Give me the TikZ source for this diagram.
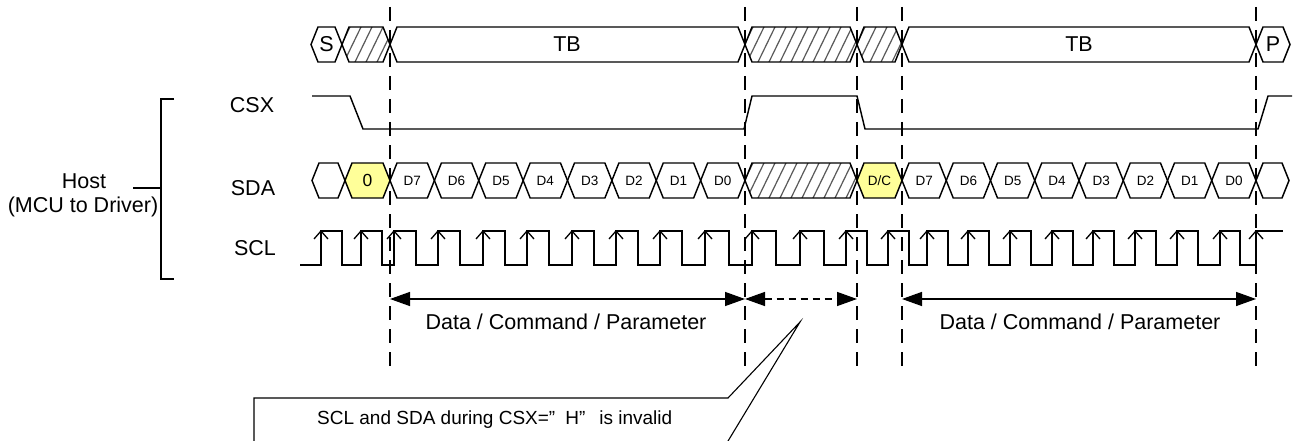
\documentclass[tikz,border=0pt]{standalone}
\usepackage{fontspec}
\setmainfont{Liberation Sans}
\usetikzlibrary{arrows.meta}
\definecolor{hl}{RGB}{255,255,153}
\tikzset{
  sig/.style={line width=1.45pt, line join=miter},
  hatchline/.style={line width=1.2pt, draw=black!65},
  vdash/.style={line width=1.3pt, dash pattern=on 14pt off 9pt},
  dimarrow/.style={line width=1.4pt, {Triangle[length=20pt,width=14pt]}-{Triangle[length=20pt,width=14pt]}},
  dimdash/.style={dimarrow, dash pattern=on 7pt off 5pt},
  biglab/.style={font=\fontsize{21.5}{25}\selectfont, inner sep=0pt},
  dlab/.style={font=\fontsize{13.5}{16}\selectfont, inner sep=0pt},
  edge/.style={line width=1.3pt}
}
\newcommand\hexcell[4][]{%
  \draw[sig,#1] ({#2},{#4}) -- ({#2+7},{#4-17.5}) -- ({#3-7},{#4-17.5}) -- ({#3},{#4}) -- ({#3-7},{#4+17.5}) -- ({#2+7},{#4+17.5}) -- cycle;}
\newcommand\hatchcell[3]{%
  \begin{scope}
    \clip ({#1},{#3}) -- ({#1+7},{#3-17.5}) -- ({#2-7},{#3-17.5}) -- ({#2},{#3}) -- ({#2-7},{#3+17.5}) -- ({#1+7},{#3+17.5}) -- cycle;
    \foreach \k in {0,...,14}{\draw[hatchline] ({#1-20+11*\k},{#3+17.5}) -- ({#1-3+11*\k},{#3-17.5});}
  \end{scope}
  \hexcell{#1}{#2}{#3}}
\begin{document}
\begin{tikzpicture}[x=1pt,y=-1pt]
\useasboundingbox[fill=white] (0,0) rectangle (1300,441);

% ---------- side labels and bracket ----------
\node[biglab] (host) at (84,181) {Host};
\node[biglab] (hostsub) at (83,207) {(MCU to Driver)};
\node[biglab] (csx) at (252,105) {CSX};
\node[biglab] (sda) at (253,188) {SDA};
\node[biglab] (scl) at (255,248) {SCL};
\coordinate (bt) at (161,99);
\coordinate (bb) at (161,279);
\coordinate (bs) at (133,188);
\draw[sig] (174,99) -- (bt) -- (bb) -- (174,279);
\draw[sig] (bs) -- (161,188);

% ---------- dashed verticals ----------
\foreach \x [count=\n] in {390,745,857,902,1256}{
  \coordinate (vt\n) at (\x,7);
  \coordinate (vb\n) at (\x,368);
  \draw[vdash] (vt\n) -- (vb\n);
}

% ---------- top bus ----------
\hexcell{311}{342}{44.5}
\node[biglab] (s) at (326.5,44.5) {S};
\hatchcell{342}{390}{44.5}
\hexcell{390}{745}{44.5}
\node[biglab] (tb1) at (567,44.5) {TB};
\hatchcell{745}{857}{44.5}
\hatchcell{857}{902}{44.5}
\hexcell{902}{1256}{44.5}
\node[biglab] (tb2) at (1079,44.5) {TB};
\hexcell{1256}{1290}{44.5}
\node[biglab] (p) at (1273,44.5) {P};

% ---------- CSX ----------
\draw[sig] (312,96) -- (350,96) -- (363,129) -- (744,129) -- (752,96) -- (857,96) -- (865,129) -- (1258,129) -- (1268,96) -- (1292,96);

% ---------- SDA ----------
\hexcell{312}{345}{180.5}
\hexcell[fill=hl]{345}{390}{180.5}
\node[font=\fontsize{17.5}{20}\selectfont, inner sep=0pt] (zero) at (367.5,180.5) {0};
\foreach \lab [count=\i from 0] in {D7,D6,D5,D4,D3,D2,D1,D0}{
  \pgfmathsetmacro\xa{390+44.375*\i}
  \pgfmathsetmacro\xb{\xa+44.375}
  \hexcell{\xa}{\xb}{180.5}
  \node[dlab] (da\i) at ({(\xa+\xb)/2},180.5) {\lab};
}
\hatchcell{745}{857}{180.5}
\hexcell[fill=hl]{857}{902}{180.5}
\node[dlab] (dc) at (879.5,180.5) {D/C};
\foreach \lab [count=\i from 0] in {D7,D6,D5,D4,D3,D2,D1,D0}{
  \pgfmathsetmacro\xa{902+44.25*\i}
  \pgfmathsetmacro\xb{\xa+44.25}
  \hexcell{\xa}{\xb}{180.5}
  \node[dlab] (db\i) at ({(\xa+\xb)/2},180.5) {\lab};
}
\hexcell{1256}{1289}{180.5}

% ---------- SCL ----------
\draw[sig] (300,265)
  -| (321,231) -| (342,265) -| (361,231) -| (382,265)
  -| (394,231) -| (416,265) -| (438,231) -| (460,265)
  -| (483,231) -| (505,265) -| (527,231) -| (549,265)
  -| (572,231) -| (594,265) -| (616,231) -| (638,265)
  -| (660,231) -| (682,265) -| (705,231) -| (729,265)
  -| (752,231) -| (776,265) -| (800,231) -| (824,265)
  -| (846,231) -| (867,265) -| (888,231) -| (909,265)
  -| (927,231) -| (948,265) -| (968,231) -| (989,265)
  -| (1010,231) -| (1031,265) -| (1052,231) -| (1073,265)
  -| (1093,231) -| (1114,265) -| (1135,231) -| (1156,265)
  -| (1177,231) -| (1198,265) -| (1220,231) -| (1240,265)
  -| (1256,231) -- (1283,231);
\foreach \x in {321,361,394,438,483,527,572,616,660,705,752,800,846,888,927,968,1010,1052,1093,1135,1177,1220,1256}{
  \draw[edge] (\x-7,239) -- (\x,231) -- (\x+7,239);
}

% ---------- dimension arrows ----------
\coordinate (a1) at (390,299);
\coordinate (a2) at (745,299);
\coordinate (a3) at (857,299);
\coordinate (a4) at (902,299);
\coordinate (a5) at (1256,299);
\draw[dimarrow] (a1) -- (a2);
\draw[dimdash] (a2) -- (a3);
\draw[dimarrow] (a4) -- (a5);
\node[biglab] (dcp1) at (566,322) {Data / Command / Parameter};
\node[biglab] (dcp2) at (1080,322) {Data / Command / Parameter};

% ---------- callout ----------
\coordinate (tip) at (800,322);
\draw[sig, line width=1.1pt, fill=white] (254,446) -- (254,398) -- (728,398) -- (tip) -- (725,446);
\node[font=\fontsize{19}{22}\selectfont, inner sep=0pt, anchor=west] (note) at (317,420)
  {SCL and SDA during CSX=”\hspace{10pt}H”\hspace{14pt}is invalid};
\end{tikzpicture}
\end{document}
